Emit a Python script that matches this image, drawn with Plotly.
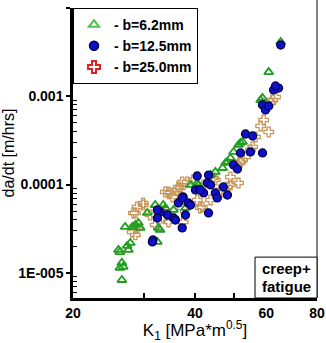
import plotly.graph_objects as go

# ---- data ----
green_k = [25.9, 27.4, 27.2, 27.7, 26.1, 26.4, 26.6, 26.1, 26.4, 26.9, 28.0, 28.5, 29.0, 29.3,
           30.5, 31.9, 32.3, 32.8, 32.5, 33.4, 33.8, 35.4, 37.9, 39.0, 40.5, 40.8, 46.8, 47.6,
           48.1, 48.9, 49.8, 51.2, 51.8, 52.4, 58.1, 58.7, 60.8, 65.1, 44.9, 43.7]
green_rate = [1.82e-5, 1.82e-5, 2.02e-5, 2.18e-5, 1.72e-5, 1.30e-5, 1.17e-5, 1.14e-5, 8.3e-6,
              3.31e-5, 3.31e-5, 3.49e-5, 3.67e-5, 3.23e-5, 4.77e-5, 5.87e-5, 2.24e-5, 3.06e-5,
              3.23e-5, 5.87e-5, 5.43e-5, 5.16e-5, 5.43e-5, 9.9e-5, 1.04e-4, 9.9e-5, 1.54e-4,
              1.76e-4, 1.80e-4, 2.0e-4, 2.34e-4, 2.81e-4, 2.96e-4, 3.04e-4, 9.08e-4, 9.56e-4,
              1.88e-3, 4.12e-3, 1.39e-4, 1.28e-4]

blue_k = [65.1, 64.3, 62.5, 63.2, 58.7, 59.7, 60.8, 53.3, 55.5, 51.8, 54.8, 58.7, 49.8, 50.9,
          43.2, 40.5, 42.9, 43.7, 47.0, 42.0, 44.9, 45.4, 48.1, 37.4, 38.5, 36.4, 39.0, 37.2,
          40.1, 41.2, 43.2, 37.2, 35.4, 35.8, 32.8, 32.3, 31.5, 32.3, 31.4, 34.2, 37.9]
blue_rate = [3.81e-3, 1.24e-3, 1.18e-3, 1.31e-3, 7.97e-4, 7.0e-4, 7.76e-4, 3.74e-4, 3.55e-4,
             2.28e-4, 2.34e-4, 2.28e-4, 1.67e-4, 1.50e-4, 1.28e-4, 1.25e-4, 1.04e-4, 9.9e-5,
             9.39e-5, 8.04e-5, 8.04e-5, 7.05e-5, 7.62e-5, 7.24e-5, 6.19e-5, 6.19e-5, 5.87e-5,
             7.05e-5, 8.69e-5, 8.69e-5, 4.77e-5, 3.23e-5, 4.18e-5, 3.97e-5, 4.89e-5, 4.18e-5,
             2.36e-5, 5.16e-5, 2.24e-5, 4.52e-5, 4.52e-5]

tan_k = [63.2, 61.5, 62.2, 59.1, 58.1, 60.8, 56.4, 55.5, 53.3, 52.4, 50.9, 51.2, 51.8, 48.9,
         48.9, 44.4, 46.2, 46.8, 48.1, 42.0, 41.7, 41.2, 40.5, 39.6, 38.3, 37.2, 36.8, 36.4,
         36.2, 34.8, 33.8, 35.2, 34.4, 37.4, 37.2, 35.4, 34.4, 33.4, 29.8, 28.8, 28.5, 28.5,
         28.0, 28.5, 29.8, 28.2, 28.8, 43.7, 44.9, 54.8, 32.8, 31.0, 31.9]
tan_rate = [9.82e-4, 8.39e-4, 9.08e-4, 5.39e-4, 4.61e-4, 3.94e-4, 3.46e-4, 2.67e-4, 2.05e-4,
            1.90e-4, 1.67e-4, 1.04e-4, 1.80e-4, 1.22e-4, 9.9e-5, 1.19e-4, 8.69e-5, 8.24e-5,
            9.39e-5, 9.9e-5, 5.58e-5, 5.43e-5, 6.69e-5, 1.13e-4, 1.07e-4, 1.07e-4, 9.15e-5,
            9.39e-5, 8.69e-5, 8.04e-5, 8.24e-5, 7.24e-5, 8.24e-5, 3.77e-5, 5.43e-5, 4.18e-5,
            3.77e-5, 4.18e-5, 6.19e-5, 5.58e-5, 4.77e-5, 3.23e-5, 2.90e-5, 2.69e-5, 5.87e-5,
            4.77e-5, 3.23e-5, 6.69e-5, 1.13e-4, 2.46e-4, 5.16e-5, 4.52e-5, 3.49e-5]

legend_names = ["- b=6.2mm", "- b=12.5mm", "- b=25.0mm"]
box_lines = ["creep+", "fatigue"]

x_tickvals = [20, 30, 40, 50, 60, 70, 80]
x_ticktext = ["20", "", "40", "", "60", "", "80"]
y_tickvals = [1e-5, 1e-4, 1e-3, 1e-2]
y_ticktext = ["1E-005", "0.0001", "0.001", "0.01"]
y_minor = [m * 10.0 ** e for e in (-6, -5, -4, -3) for m in range(2, 10)]

FONT = "Liberation Sans, Arial, sans-serif"
GREEN = "#1f9e1f"
BLUE = "#1010c8"
TAN = "#c8965a"
RED = "#e02020"

fig = go.Figure()

fig.add_trace(go.Scatter(x=tan_k, y=tan_rate, mode="markers", showlegend=False,
                         marker=dict(symbol="cross-open", size=8, color=TAN,
                                     line=dict(width=1.3, color=TAN))))
fig.add_trace(go.Scatter(x=green_k, y=green_rate, mode="markers", showlegend=False,
                         marker=dict(symbol="triangle-up-open", size=8, color=GREEN,
                                     line=dict(width=1.8, color=GREEN))))
fig.add_trace(go.Scatter(x=blue_k, y=blue_rate, mode="markers", showlegend=False,
                         marker=dict(symbol="circle", size=8, color=BLUE,
                                     line=dict(width=1.3, color="#000050"))))

# legend entries
fig.add_trace(go.Scatter(x=[None], y=[None], mode="markers", name=legend_names[0],
                         marker=dict(symbol="triangle-up-open", size=9, color="#50c050",
                                     line=dict(width=2, color="#50c050"))))
fig.add_trace(go.Scatter(x=[None], y=[None], mode="markers", name=legend_names[1],
                         marker=dict(symbol="circle", size=9, color=BLUE,
                                     line=dict(width=1.5, color="#000050"))))
fig.add_trace(go.Scatter(x=[None], y=[None], mode="markers", name=legend_names[2],
                         marker=dict(symbol="cross-open", size=10, color=RED,
                                     line=dict(width=2, color=RED))))

fig.update_layout(
    width=326, height=343,
    margin=dict(l=73, r=9, t=8, b=45),
    plot_bgcolor="white", paper_bgcolor="white",
    font=dict(family=FONT, color="black"),
    showlegend=True,
    legend=dict(x=0, y=1, xanchor="left", yanchor="top",
                bgcolor="white", bordercolor="black", borderwidth=1,
                font=dict(family=FONT, size=14, color="black", weight="bold"),
                itemwidth=30, tracegroupgap=0),
    xaxis=dict(type="log", range=[1.30103, 1.90309], automargin=False,
               tickvals=x_tickvals, ticktext=x_ticktext,
               ticks="inside", ticklen=5, tickwidth=1.5, tickcolor="black",
               showline=True, linewidth=2.5, linecolor="black",
               showgrid=False, zeroline=False,
               tickfont=dict(family=FONT, size=14, weight="bold"),
               title=dict(text="K<sub>1</sub> [MPa*m<sup>0.5</sup>]",
                          font=dict(family=FONT, size=17), standoff=0)),
    yaxis=dict(type="log", range=[-5.285, -2.0], automargin=False,
               tickvals=y_tickvals, ticktext=y_ticktext,
               ticks="outside", ticklen=4, tickwidth=1.5, tickcolor="black",
               minor=dict(tickvals=y_minor, ticks="inside", ticklen=4,
                          tickwidth=1, tickcolor="black", showgrid=False),
               showline=True, linewidth=2.5, linecolor="black",
               showgrid=False, zeroline=False,
               tickfont=dict(family=FONT, size=14, weight="bold"),
               title=dict(text="da/dt [m/hrs]", font=dict(family=FONT, size=16),
                          standoff=2)),
)

# right border line
fig.add_shape(type="line", xref="paper", yref="paper", x0=1, x1=1, y0=0, y1=1.03,
              line=dict(color="black", width=1))
# creep+fatigue box
fig.add_shape(type="rect", xref="paper", yref="paper", x0=0.746, x1=1, y0=0, y1=0.141,
              line=dict(color="black", width=1), fillcolor="white", layer="above")
for i, line_text in enumerate(box_lines):
    fig.add_annotation(xref="paper", yref="paper", x=0.873, y=0.103 - i * 0.064,
                       xanchor="center", yanchor="middle", showarrow=False,
                       text=line_text,
                       font=dict(family=FONT, size=15, color="black", weight="bold"))

fig.write_html("out.html", config={"displayModeBar": False},
               post_script="document.body.style.margin='0';")
